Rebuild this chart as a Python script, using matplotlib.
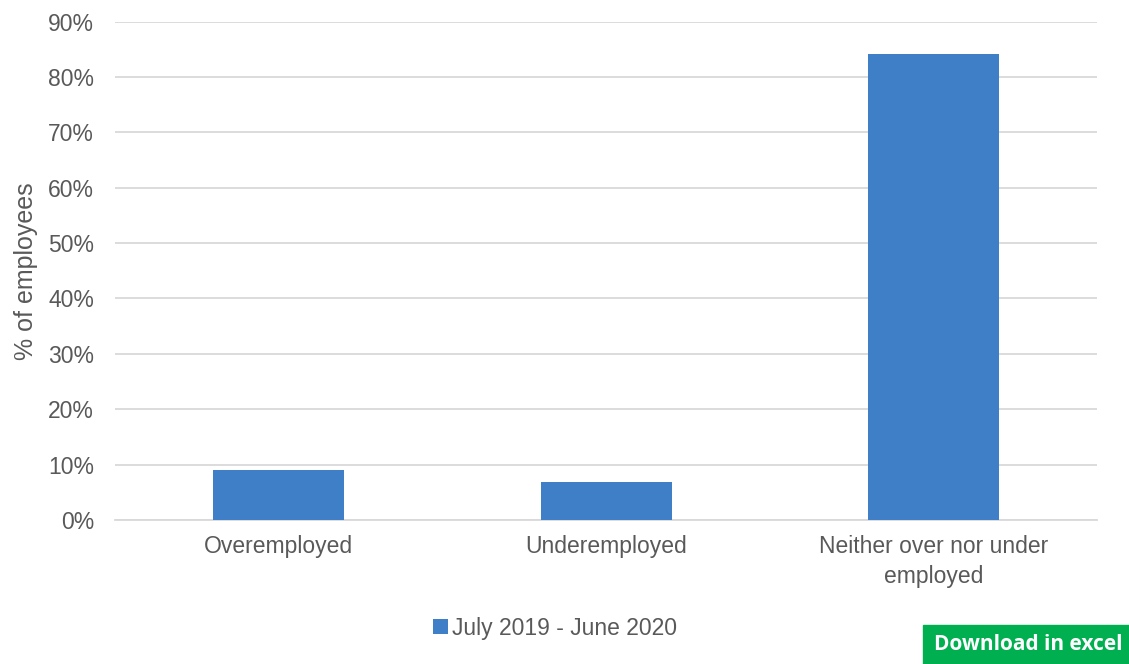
import matplotlib
matplotlib.use("Agg")
import matplotlib.pyplot as plt
from matplotlib.ticker import PercentFormatter

plt.rcParams['font.family'] = ['Liberation Sans', 'DejaVu Sans']

categories = ["Overemployed", "Underemployed", "Neither over nor under\nemployed"]
values = [9.0, 6.8, 84.1]
series_name = "July 2019 - June 2020"
y_ticks = [0, 10, 20, 30, 40, 50, 60, 70, 80, 90]

bar_color = "#3f7fc8"
text_color = "#595959"
grid_color = "#d9d9d9"

fig = plt.figure(figsize=(11.29, 6.64), dpi=100)
ax = fig.add_axes([0.1019, 0.2169, 0.8698, 0.7507])

x = range(len(categories))
ax.bar(x, values, width=0.4, color=bar_color, label=series_name, zorder=3)

ax.set_xlim(-0.5, len(categories) - 0.5)
ax.set_ylim(0, 90)
ax.set_yticks(y_ticks)
ax.yaxis.set_major_formatter(PercentFormatter(decimals=0))
ax.set_xticks(list(x))
ax.set_xticklabels(categories, fontsize=16.5, color=text_color, linespacing=1.4)
ax.tick_params(axis='y', labelsize=16.5, colors=text_color, length=0, pad=15)
ax.tick_params(axis='x', length=0, pad=11)

ax.grid(axis='y', color=grid_color, linewidth=1.3, zorder=0)
for side in ["top", "right", "left"]:
    ax.spines[side].set_visible(False)
ax.spines["bottom"].set_color(grid_color)
ax.spines["bottom"].set_linewidth(1.3)

ax.set_ylabel("% of employees", fontsize=18, color=text_color)
ax.yaxis.set_label_coords(-0.078, 0.5)

leg = fig.legend(loc="center", bbox_to_anchor=(0.4916, 1 - 628 / 664), frameon=False,
                 fontsize=16.5, handlelength=0.65, handleheight=0.65, handletextpad=0.15)
for t in leg.get_texts():
    t.set_color(text_color)

# Green download button in the lower-right corner
fig.patches.append(plt.Rectangle((923 / 1129, 0), 1 - 923 / 1129, 39 / 664,
                                 transform=fig.transFigure, color="#00b050", zorder=5))
fig.text(934 / 1129, 20 / 664, "Download in excel", fontsize=15, fontweight="bold",
         color="white", family=["Open Sans", "DejaVu Sans"], va="center", ha="left", zorder=6)

fig.savefig("out.png", dpi=100)
